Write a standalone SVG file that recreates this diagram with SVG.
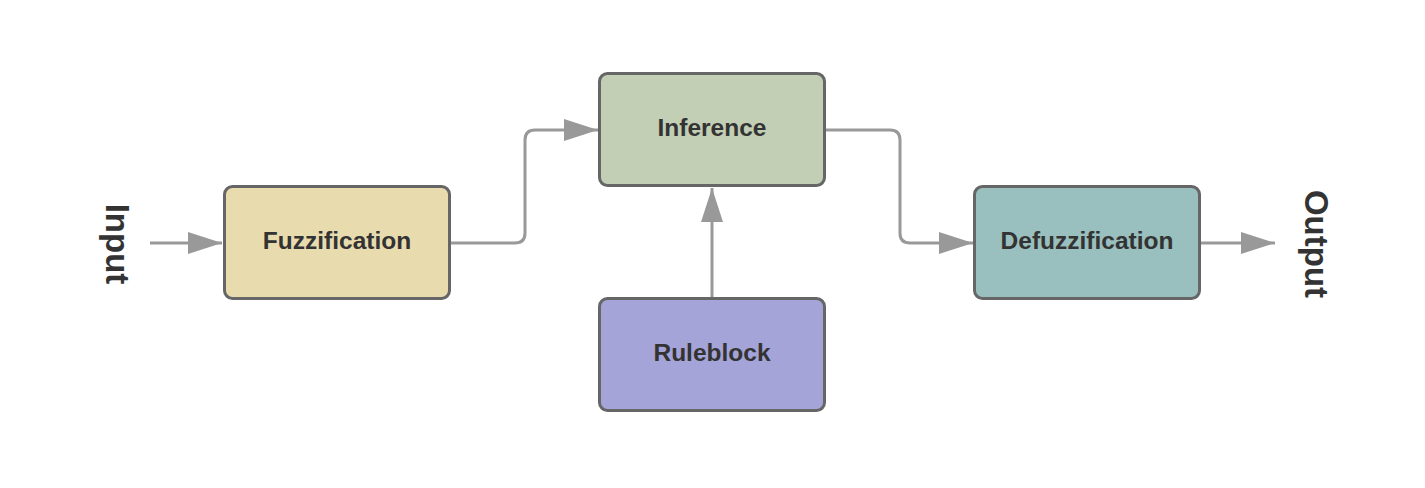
<svg xmlns="http://www.w3.org/2000/svg" width="1425" height="488" viewBox="0 0 1425 488">
<style>
.box{stroke:#666;stroke-width:3}
.lbl{font-family:"Liberation Sans",Arial,sans-serif;font-weight:bold;font-size:24.5px;fill:#333;text-anchor:middle}
.io{font-family:"Liberation Sans",Arial,sans-serif;font-weight:bold;font-size:33px;fill:#333;text-anchor:middle}
.c{fill:none;stroke:#999;stroke-width:3;stroke-linejoin:round}
</style>
<defs>
<marker id="ah" viewBox="0 0 34 22" refX="34" refY="11" markerWidth="34" markerHeight="22" markerUnits="userSpaceOnUse" orient="auto">
<path d="M0,0 L34,11 L0,22 Z" fill="#999"/>
</marker>
</defs>
<rect width="1425" height="488" fill="#fff"/>
<g id="connectors">
<path class="c" d="M150,243 H222" marker-end="url(#ah)"/>
<path class="c" d="M451,243 H515 Q525,243 525,233 V140 Q525,130 535,130 H598" marker-end="url(#ah)"/>
<path class="c" d="M826,130 H890 Q900,130 900,140 V233 Q900,243 910,243 H973" marker-end="url(#ah)"/>
<path class="c" d="M712,297 V188" marker-end="url(#ah)"/>
<path class="c" d="M1201,243 H1275" marker-end="url(#ah)"/>
</g>
<g id="input"><text class="io" transform="translate(117,244) rotate(90)" x="0" y="11.5">Input</text></g>
<g id="fuzzification"><rect class="box" x="224.5" y="186.5" width="225" height="112" rx="8" fill="#e8dcae"/><text class="lbl" x="337" y="248.5">Fuzzification</text></g>
<g id="inference"><rect class="box" x="599.5" y="73.5" width="225" height="112" rx="8" fill="#c2cfb5"/><text class="lbl" x="712" y="135.5">Inference</text></g>
<g id="ruleblock"><rect class="box" x="599.5" y="298.5" width="225" height="112" rx="8" fill="#a5a4d8"/><text class="lbl" x="712" y="360.5">Ruleblock</text></g>
<g id="defuzzification"><rect class="box" x="974.5" y="186.5" width="225" height="112" rx="8" fill="#99bfbe"/><text class="lbl" x="1087" y="248.5">Defuzzification</text></g>
<g id="output"><text class="io" transform="translate(1316,244) rotate(90)" x="0" y="11.5">Output</text></g>
</svg>
